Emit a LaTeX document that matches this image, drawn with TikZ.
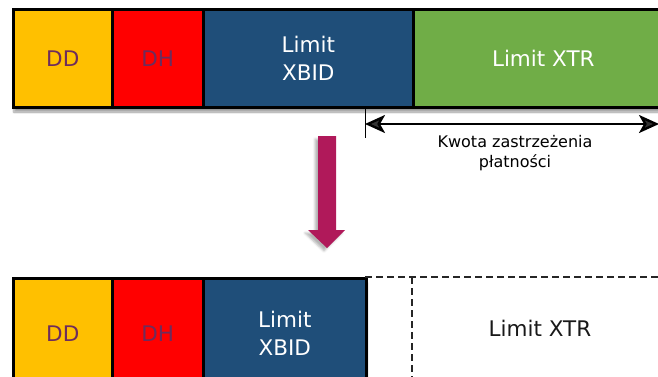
\documentclass[tikz,border=0pt]{standalone}
\usepackage{fontspec}
\setmainfont{DejaVu Sans}
\usetikzlibrary{arrows.meta,shadows.blur}
\definecolor{cdd}{HTML}{FFC000}
\definecolor{cdh}{HTML}{FF0000}
\definecolor{cxbid}{HTML}{1F4E79}
\definecolor{cxtr}{HTML}{70AD47}
\definecolor{ctxt}{HTML}{6E2C5C}
\definecolor{carrow}{HTML}{B0195A}
\tikzset{
  blk/.style={draw=black, line width=2.6pt, anchor=north west, inner sep=0pt, align=center,
    font=\fontsize{21.5}{28}\selectfont},
  shd/.style={blur shadow={shadow xshift=2pt, shadow yshift=-6pt, shadow blur steps=8, shadow opacity=40}},
  dashln/.style={draw=black!85, line width=1.1pt, dash pattern=on 7pt off 4pt},
  dim/.style={line width=2.4pt, {Stealth[length=20pt,width=18pt,inset=5pt]}-{Stealth[length=20pt,width=18pt,inset=5pt]}},
}
\begin{document}
\begin{tikzpicture}[x=1pt,y=-1pt]
\useasboundingbox (0,0) rectangle (658,376);
\clip (0,0) rectangle (658,376);
% top row
\fill[shd, white] (12,8) rectangle (700,106);
\node[blk, fill=cdd, text=ctxt, minimum width=99pt, minimum height=98pt] (dd1) at (12,8) {DD};
\node[blk, fill=cdh, text=ctxt, minimum width=91pt, minimum height=98pt] (dh1) at (111,8) {DH};
\node[blk, fill=cxbid, text=white, minimum width=210pt, minimum height=98pt] (xb1) at (202,8) {Limit\\XBID};
\node[blk, fill=cxtr, text=white, minimum width=260pt, minimum height=98pt] (xt1) at (412,8) {Limit XTR};
% dimension
\coordinate (tk1) at (365,107);
\coordinate (tk2) at (365,138);
\draw[line width=0.9pt] (tk1) -- (tk2);
\coordinate (da) at (365,124);
\coordinate (db) at (659,124);
\draw[dim] (da) -- (db);
\node[align=center, font=\fontsize{16}{19.5}\selectfont] (kw) at (515,153) {Kwota zastrzeżenia\\płatności};
% big arrow
\fill[carrow, blur shadow={shadow xshift=-3pt, shadow yshift=-3pt, shadow opacity=30}]
  (318,136) -- (336,136) -- (336,230) -- (345,230) -- (327,248) -- (308,230) -- (318,230) -- cycle;
% bottom row
\fill[shd, white] (12,277) rectangle (365,400);
\node[blk, fill=cdd, text=ctxt, minimum width=99pt, minimum height=110pt] (dd2) at (12,277) {DD};
\node[blk, fill=cdh, text=ctxt, minimum width=91pt, minimum height=110pt] (dh2) at (111,277) {DH};
\node[blk, fill=cxbid, text=white, minimum width=163pt, minimum height=110pt] (xb2) at (202,277) {Limit\\XBID};
\coordinate (ld1) at (365,277);
\coordinate (ld2) at (660,277);
\coordinate (lv1) at (412,277);
\coordinate (lv2) at (412,380);
\draw[dashln] (ld1) -- (ld2);
\draw[dashln] (lv1) -- (lv2);
\node[font=\fontsize{21.5}{28}\selectfont, text=black!90] (xt2) at (540,328) {Limit XTR};
\end{tikzpicture}
\end{document}
